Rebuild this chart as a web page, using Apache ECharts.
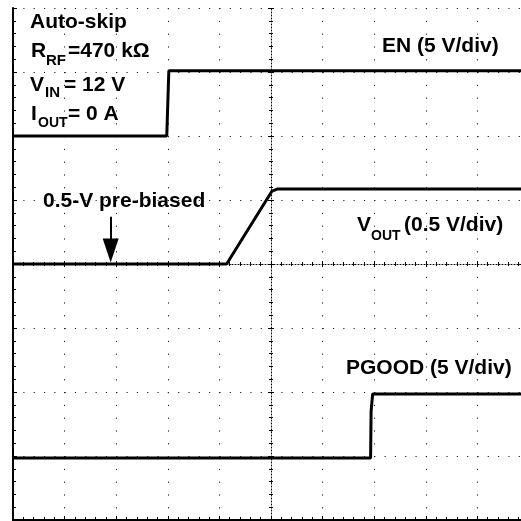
<!DOCTYPE html>
<html>
<head>
<meta charset="utf-8">
<script src="https://cdn.jsdelivr.net/npm/echarts@6/dist/echarts.min.js"></script>
<style>html,body{margin:0;padding:0;background:#fff}#c{width:521px;height:521px}</style>
</head>
<body>
<div id="c"></div>
<script>
// Oscilloscope screen in divisions: 10 horizontal, 8 vertical
const EN_T = [0, 2.98, 3.02, 10];
const EN_V = [6.0, 6.0, 7.02, 7.02];
const VOUT_T = [0, 4.14, 5.02, 5.12, 10];
const VOUT_V = [4.0, 4.0, 5.14, 5.17, 5.17];
const PGOOD_T = [0, 6.93, 6.94, 6.97, 10];
const PGOOD_V = [0.97, 0.97, 1.7, 1.97, 1.97];
const ARROW_T = [1.893, 1.893];
const ARROW_V = [4.74, 4.21];
const conditionText = ['Auto-skip', 'R', 'RF', '=470 kΩ', 'V', 'IN', '= 12 V', 'I', 'OUT', '= 0 A'];
const traceText = ['EN (5 V/div)', 'V', 'OUT', '(0.5 V/div)', 'PGOOD (5 V/div)', '0.5-V pre-biased'];

const zip = (t, v) => t.map((x, i) => [x, v[i]]);
const chart = echarts.init(document.getElementById('c'), null, {renderer: 'canvas'});
const FONT = '"Liberation Sans", Arial, sans-serif';
function txt(text, x, y, size) {
  return {type: 'text', z: 100, style: {text: text, x: x, y: y, fill: '#000', fontSize: size, fontWeight: 'bold', fontFamily: FONT, align: 'left', verticalAlign: 'middle'}};
}
const baseX = {type: 'value', min: 0, max: 10, interval: 1, axisLabel: {show: false}};
const baseY = {type: 'value', min: 0, max: 8, interval: 1, axisLabel: {show: false}};
const tickStyle = {color: '#000', width: 1};
chart.setOption({
  animation: false,
  backgroundColor: '#fff',
  grid: {left: 13, top: 8, width: 516, height: 512, outerBoundsMode: 'none', containLabel: false},
  xAxis: [
    Object.assign({}, baseX, {position: 'bottom',
      axisLine: {show: true, lineStyle: {color: '#000', width: 2}},
      axisTick: {show: true, inside: true, length: 4, lineStyle: tickStyle},
      minorTick: {show: true, splitNumber: 5, length: 3, lineStyle: tickStyle},
      splitLine: {show: true, lineStyle: {color: '#222', width: 1, type: [1.2, 11.6]}}}),
    Object.assign({}, baseX, {position: 'top',
      axisLine: {show: true, lineStyle: {color: '#000', width: 2}},
      axisTick: {show: true, inside: true, length: 4, lineStyle: tickStyle},
      minorTick: {show: true, splitNumber: 5, length: 3, lineStyle: tickStyle},
      splitLine: {show: false}}),
    Object.assign({}, baseX, {position: 'bottom', offset: -256,
      axisLine: {show: true, onZero: false, lineStyle: {color: '#000', width: 1, type: [1, 2]}},
      axisTick: {show: true, inside: true, length: 3, lineStyle: tickStyle},
      minorTick: {show: true, splitNumber: 5, length: 2, lineStyle: tickStyle},
      splitLine: {show: false}}),
    Object.assign({}, baseX, {position: 'bottom', offset: -256,
      axisLine: {show: false, onZero: false},
      axisTick: {show: true, inside: false, length: 3, lineStyle: tickStyle},
      minorTick: {show: true, splitNumber: 5, length: 2, lineStyle: tickStyle},
      splitLine: {show: false}})
  ],
  yAxis: [
    Object.assign({}, baseY, {position: 'left',
      axisLine: {show: true, lineStyle: {color: '#000', width: 2}},
      axisTick: {show: true, inside: true, length: 4, lineStyle: tickStyle},
      minorTick: {show: true, splitNumber: 5, length: 3, lineStyle: tickStyle},
      splitLine: {show: true, lineStyle: {color: '#222', width: 1, type: [1.2, 9.12]}}}),
    Object.assign({}, baseY, {position: 'left', offset: -258,
      axisLine: {show: true, onZero: false, lineStyle: {color: '#000', width: 1, type: [1, 2]}},
      axisTick: {show: true, inside: true, length: 3, lineStyle: tickStyle},
      minorTick: {show: true, splitNumber: 5, length: 2, lineStyle: tickStyle},
      splitLine: {show: false}}),
    Object.assign({}, baseY, {position: 'left', offset: -258,
      axisLine: {show: false, onZero: false},
      axisTick: {show: true, inside: false, length: 3, lineStyle: tickStyle},
      minorTick: {show: true, splitNumber: 5, length: 2, lineStyle: tickStyle},
      splitLine: {show: false}})
  ],
  series: [
    {name: 'EN', type: 'line', xAxisIndex: 0, yAxisIndex: 0, data: zip(EN_T, EN_V), symbol: 'none', lineStyle: {color: '#000', width: 3}, z: 10},
    {name: 'VOUT', type: 'line', xAxisIndex: 0, yAxisIndex: 0, data: zip(VOUT_T, VOUT_V), symbol: 'none', lineStyle: {color: '#000', width: 3}, z: 10,
      markLine: {silent: true, symbol: ['none', 'triangle'], symbolSize: [16, 24], label: {show: false},
        lineStyle: {color: '#000', width: 2, type: 'solid'},
        data: [[{coord: [ARROW_T[0], ARROW_V[0]]}, {coord: [ARROW_T[1], ARROW_V[1]]}]]}},
    {name: 'PGOOD', type: 'line', xAxisIndex: 0, yAxisIndex: 0, data: zip(PGOOD_T, PGOOD_V), symbol: 'none', lineStyle: {color: '#000', width: 3}, z: 10}
  ],
  graphic: [
    txt(conditionText[0], 30, 22, 21),
    txt(conditionText[1], 31, 51.5, 21),
    txt(conditionText[2], 46, 60.5, 15),
    txt(conditionText[3], 68, 51.5, 21),
    txt(conditionText[4], 30, 85.5, 21),
    txt(conditionText[5], 45, 92.5, 15),
    txt(conditionText[6], 64, 85.5, 21),
    txt(conditionText[7], 31, 114.5, 21),
    txt(conditionText[8], 38, 123.5, 14),
    txt(conditionText[9], 68, 114.5, 21),
    txt(traceText[0], 382, 46.5, 21),
    txt(traceText[1], 357, 225.5, 21),
    txt(traceText[2], 371, 236.5, 14),
    txt(traceText[3], 404, 225.5, 21),
    txt(traceText[4], 346, 368.5, 21),
    txt(traceText[5], 43, 201, 21)
  ]
});
</script>
</body>
</html>
